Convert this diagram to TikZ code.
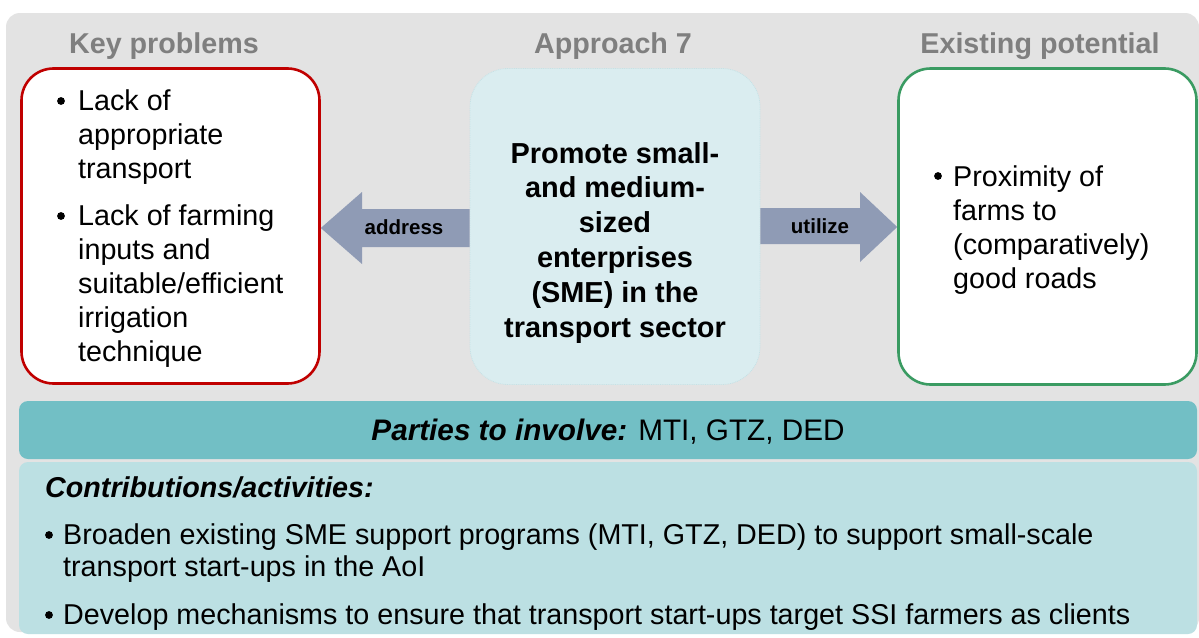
\documentclass[tikz,border=0pt]{standalone}
\usepackage{fontspec}
\setmainfont{Liberation Sans}
\definecolor{panelgray}{HTML}{E3E3E3}
\definecolor{headgray}{HTML}{7F7F7F}
\definecolor{probred}{HTML}{C00000}
\definecolor{potgreen}{HTML}{3A9B62}
\definecolor{centerfill}{HTML}{DAEDF0}
\definecolor{centeredge}{HTML}{C4E2E6}
\definecolor{arrowfill}{HTML}{8F9BB5}
\definecolor{bandfill}{HTML}{72BFC5}
\definecolor{contribfill}{HTML}{BCE0E3}
% multi-line nodes below are placed by the baseline of their LAST line
\tikzset{
  heading/.style={font=\fontsize{28.7}{32}\selectfont\bfseries, text=headgray, anchor=base, inner sep=0},
  whitebox/.style={draw, fill=white, line width=2.6pt, rounded corners=32pt, inner sep=0},
  body/.style={font=\fontsize{28.7}{34}\selectfont, align=left, anchor=base west, inner sep=0},
  dot/.style={circle, fill=black, inner sep=0, minimum size=7.8pt},
  arrowlabel/.style={font=\fontsize{20.5}{22}\selectfont\bfseries, inner sep=0, anchor=base},
}
\begin{document}
\begin{tikzpicture}[x=1pt,y=-1pt]
\useasboundingbox (0,0) rectangle (1199,637);
\clip (0,0) rectangle (1199,637);
\fill[white] (0,0) rectangle (1199,637);

% grey panel behind everything
\fill[panelgray, rounded corners=14pt] (6,13) rectangle (1199,632);

% column headings
\node[heading] (hkp) at (164,53) {Key problems};
\node[heading] (hap) at (613,53) {Approach 7};
\node[heading] (hex) at (1040,53) {Existing potential};

% three boxes
\node[whitebox, draw=probred, minimum width=298pt, minimum height=315pt] (kp) at (170.5,226) {};
\node[fill=centerfill, draw=centeredge, densely dotted, line width=0.8pt, rounded corners=38pt,
      minimum width=290pt, minimum height=316pt, inner sep=0] (ctr) at (615,226.5) {};
\node[whitebox, draw=potgreen, minimum width=298pt, minimum height=316pt] (ep) at (1047.5,226.5) {};

% arrows between the boxes
\fill[arrowfill] (ctr.west |- 0,209) -- (362,209) -- (362,192) -- (kp.east |- 0,228)
   -- (362,264) -- (362,247) -- (ctr.west |- 0,247) -- cycle;
\fill[arrowfill] (ctr.east |- 0,208) -- (860,208) -- (860,192) -- (ep.west |- 0,227)
   -- (860,262) -- (860,244) -- (ctr.east |- 0,244) -- cycle;
\node[arrowlabel] (addr) at (404,234) {address};
\node[arrowlabel] (util) at (820,233) {utilize};

% key problems
\node[dot] (kpd1) at (61,101) {};
\node[body] (kpt1) at (78,178) {Lack of\\appropriate\\transport};
\node[dot] (kpd2) at (61,216) {};
\node[body] (kpt2) at (78,361) {Lack of farming\\inputs and\\suitable/efficient\\irrigation\\technique};

% approach
\node[font=\fontsize{28.9}{34.8}\selectfont\bfseries, align=center, anchor=base, inner sep=0] (apt)
  at (615,337) {Promote small-\\and medium-\\sized\\enterprises\\(SME) in the\\transport sector};

% existing potential
\node[dot] (epd1) at (938,176) {};
\node[body] (ept1) at (953,288) {Proximity of\\farms to\\(comparatively)\\good roads};

% parties band
\fill[bandfill, rounded corners=9pt] (19,401) rectangle (1197,459);
\node[font=\fontsize{29.7}{32}\selectfont, anchor=base, inner sep=0] (par) at (608,440)
  {\textbf{\textit{Parties to involve:}} MTI, GTZ, DED};

% contributions box
\fill[contribfill, rounded corners=9pt] (19,462) rectangle (1197,634);
\node[font=\fontsize{28.7}{32}\selectfont\bfseries\itshape, anchor=base west, inner sep=0] (con) at (45,497)
  {Contributions/activities:};
\node[dot] (cd1) at (49,535) {};
\node[body, font=\fontsize{28.7}{32}\selectfont] (ct1) at (63,576) {Broaden existing SME support programs (MTI, GTZ, DED) to support small-scale\\transport start-ups in the AoI};
\node[dot] (cd2) at (49,615) {};
\node[body] (ct2) at (63,624) {Develop mechanisms to ensure that transport start-ups target SSI farmers as clients};
\end{tikzpicture}
\end{document}
